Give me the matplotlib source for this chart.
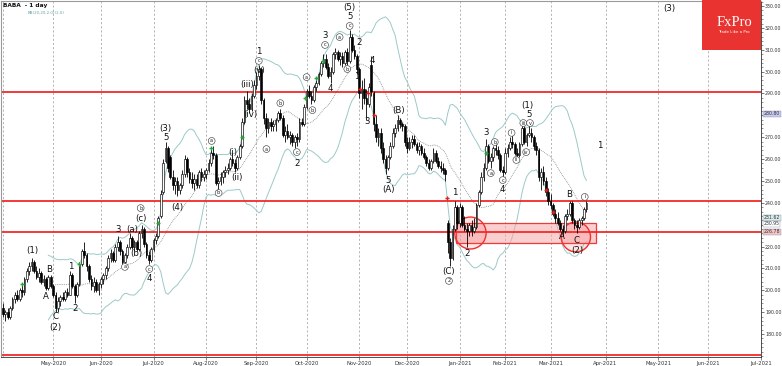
import numpy as np
import pandas as pd
import matplotlib
matplotlib.use("Agg")
import matplotlib.pyplot as plt
from matplotlib.patches import Rectangle, Ellipse
from matplotlib.ticker import MultipleLocator, FixedLocator

# ---------------- data (BABA daily, 2020-04-01 .. 2021-03-22) ----------------
opens = [192,189,190,188,192,196,198,196,200,199, 205,209,211,213,209,206,208,204,205,201,
         206,202,198,192,195,197,196,199,198,207, 202,198,203,212,218,216,211,205,202,204,
         200,203,205,207,210,215,217,214,220,222, 218,213,216,220,224,220,222,219,226,228,
         221,216,214,219,223,225,234,245,259,265, 261,252,248,250,246,248,253,260,254,251,
         249,251,248,254,252,253,255,258,263,262, 249,250,252,254,255,256,260,258,256,261,
         266,277,287,285,283,289,294,298,301,287, 279,274,277,275,276,278,281,279,271,273,
         270,271,268,270,269,277,276,284,291,289, 287,293,295,299,304,306,302,298,300,308,
         309,306,307,304,309,305,316,310,307,301, 290,292,288,285,303,290,276,270,272,265,
         260,256,261,266,272,274,278,276,275,268, 265,268,269,267,264,266,263,261,258,256,
         259,263,259,257,256,255,231,222,215,228, 238,231,238,230,228,227,230,227,229,239,
         245,252,256,266,259,261,265,264,262,255, 254,263,265,268,267,263,262,267,274,268,
         271,272,270,266,264,252,254,250,245,241, 239,235,233,231,228,227,234,235,240,232,
         230,229,232,233,237]
highs = [194,191,192,193,197,199,200,201,203,206, 210,213,215,214,211,210,209,207,206,207,
         207,203,199,197,198,199,200,201,209,208, 203,204,213,219,222,217,212,207,206,205,
         204,206,208,211,216,219,218,221,225,223, 219,217,221,226,225,223,223,227,230,229,
         222,218,220,224,226,234,246,260,268,266, 262,255,252,252,249,255,262,261,256,254,
         253,253,255,256,255,256,260,265,266,263, 252,254,255,257,258,261,263,260,262,267,
         279,289,291,288,290,296,300,303,302,288, 281,279,279,278,279,282,283,280,275,276,
         273,272,271,272,279,279,285,292,294,291, 294,296,300,305,308,308,304,302,309,311,
         310,309,309,310,311,319,317,312,308,302, 296,297,292,295,307,291,280,274,274,268,
         262,262,268,274,276,280,279,277,276,270, 270,271,271,268,268,267,265,262,260,260,
         265,264,261,259,258,256,232,224,230,241, 239,240,239,234,231,231,232,233,240,246,
         254,258,269,267,263,266,268,266,263,257, 265,267,270,271,268,265,268,276,275,272,
         277,274,271,268,265,256,257,252,247,244, 240,237,236,232,230,235,237,241,241,233,
         232,233,234,238,241]
lows = [188,186,187,187,191,194,195,195,197,198, 204,207,209,208,205,204,203,202,200,200,
        201,197,190,190,193,195,195,197,198,201, 194,197,202,211,215,209,204,200,199,199,
        198,201,203,205,209,213,213,213,218,216, 212,211,215,219,219,218,218,218,224,220,
        215,212,213,218,221,224,233,244,258,254, 251,246,244,243,244,247,252,252,249,247,
        246,247,247,250,250,251,254,257,260,248, 246,248,249,252,253,255,257,254,255,260,
        265,276,283,281,282,288,292,296,285,276, 270,272,273,273,273,277,278,270,268,269,
        267,266,265,266,268,275,275,283,288,285, 286,291,294,298,302,301,297,295,299,306,
        305,303,302,303,303,304,309,306,299,288, 283,285,278,284,289,273,268,266,263,258,
        253,255,260,265,270,273,274,273,266,263, 264,265,266,263,262,262,260,257,255,255,
        258,258,256,254,253,250,217,211,214,227, 228,229,229,227,220,225,225,226,228,238,
        244,250,255,258,256,259,262,260,254,251, 253,261,264,265,262,260,261,266,267,266,
        270,268,264,262,250,246,248,243,239,237, 234,231,230,227,225,226,232,234,231,228,
        226,228,230,232,236]
closes = [189,190,188,192,196,198,196,200,199,205, 209,211,213,209,206,208,204,205,201,206,
          202,198,192,195,197,196,199,198,207,202, 198,203,212,218,216,211,205,202,204,200,
          203,205,207,210,215,217,214,220,222,218, 213,216,220,224,220,222,219,226,228,221,
          216,214,219,223,225,233,244,258,265,256, 252,248,250,246,248,253,260,254,251,249,
          251,248,254,252,253,255,258,263,262,249, 250,252,254,255,256,260,258,256,261,266,
          277,287,285,283,289,294,298,301,287,279, 274,277,275,276,278,281,279,271,273,270,
          271,268,270,269,277,276,284,291,289,287, 293,295,299,304,306,302,298,300,308,309,
          306,307,304,309,305,316,310,307,301,290, 292,288,285,293,291,276,270,272,265,260,
          256,261,266,272,274,278,276,275,268,265, 268,269,267,264,266,263,261,258,256,259,
          263,259,257,256,255,253,222,215,228,238, 231,238,230,228,227,230,227,229,239,245,
          252,256,266,259,261,265,264,262,255,254, 263,265,268,267,263,262,267,274,268,271,
          272,270,266,264,252,254,250,245,241,239, 235,233,231,228,227,234,235,240,232,230,
          229,232,233,237,240]

nyse_holidays = ["2020-04-10", "2020-05-25", "2020-07-03", "2020-09-07", "2020-11-26",
                 "2020-12-25", "2021-01-01", "2021-01-18", "2021-02-15"]
first_day, last_day, future_end = "2020-04-01", "2021-03-22", "2021-07-02"

# y-axis tick values (labels hidden where a price tag sits)
ytick_values = [180, 190, 200, 210, 220, 230, 240, 250, 260, 270, 280, 290, 300, 310, 320, 330]
ytick_hidden = [230, 280]

# support / resistance levels
red_levels = [290.8, 240.8, 226.78, 170.6]
zone_low, zone_high = 221.5, 230.6

# price tags on the axis
tag_values = [280.80, 231.62, 230.95, 226.78]
tag_faces = ["#c8c8f0", "#d8eeee", "#ffffff", "#f4c4c4"]
tag_offsets = [0, 1.6, -0.6, 0]

# Elliott wave labels: text, bar index, price, circled
wave_text = ["(1)", "A", "B", "C", "(2)", "1", "2", "3", "a", "(a)", "(b)", "(c)", "b", "c", "4",
             "(3)", "5", "(4)", "a", "b", "(i)", "(ii)", "(iii)", "(iv)", "(v)", "c", "1",
             "a", "b", "c", "2", "a", "b", "c", "3", "4", "a", "b", "c", "5", "(5)",
             "2", "1", "3", "4", "5", "(A)", "(B)", "(C)", "2", "1", "2",
             "3", "a", "b", "c", "4", "i", "ii", "iii", "iv", "v", "5", "(1)",
             "A", "B", "C", "(2)", "i", "1", "(3)"]
wave_idx = [12.2, 18.0, 19.2, 22.0, 22.0, 28.2, 30.2, 48.2, 51.0, 53.9, 55.9, 57.6, 57.6, 61.2, 61.2,
            67.8, 68.2, 73.0, 87.3, 90.2, 96.0, 98.0, 102.0, 103.3, 107.0, 107.0, 107.0,
            110.2, 116.0, 122.9, 122.9, 127.0, 129.4, 134.7, 134.7, 136.7, 140.8, 144.0, 145.0, 145.0, 145.0,
            149.0, 148.0, 152.2, 154.3, 161.2, 161.2, 165.3, 186.5, 186.5, 189.0, 193.9,
            202.0, 204.0, 205.7, 209.0, 209.0, 212.7, 214.7, 217.6, 218.8, 220.4, 220.0, 219.2,
            233.9, 236.7, 240.0, 240.0, 243.3, 249.4, 278.8]
wave_price = [218.4, 197.0, 209.7, 187.8, 183.2, 210.7, 191.9, 227.6, 210.7, 228.0, 217.0, 233.0, 237.6, 209.7, 205.2,
              274.2, 270.0, 238.0, 268.3, 244.5, 263.2, 251.8, 294.3, 280.2, 300.3, 304.9, 309.0,
              264.6, 285.6, 263.2, 257.8, 297.5, 282.4, 312.2, 316.7, 292.5, 315.8, 301.2, 320.9, 325.0, 329.5,
              313.5, 298.0, 277.0, 305.3, 250.4, 246.3, 282.4, 208.4, 204.3, 244.5, 217.0,
              272.0, 253.6, 267.8, 250.4, 245.9, 272.0, 259.6, 276.5, 263.2, 276.5, 280.6, 284.7,
              224.4, 244.0, 223.0, 218.4, 242.7, 266.4, 329.0]
wave_circled = [0, 0, 0, 0, 0, 0, 0, 0, 1, 0, 0, 0, 1, 1, 0,
                0, 0, 0, 1, 1, 0, 0, 0, 0, 0, 1, 0,
                1, 1, 1, 0, 1, 1, 1, 0, 0, 1, 1, 1, 0, 0,
                0, 0, 0, 0, 0, 0, 0, 0, 1, 0, 0,
                0, 1, 1, 1, 0, 1, 1, 1, 1, 1, 0, 0,
                0, 0, 0, 0, 1, 0, 0]

green_idx = [8, 32, 65, 87, 100, 126.5, 131, 134, 202]
green_price = [203, 212, 231, 265, 270, 288, 297, 305, 263]
red_idx = [149.5, 152.5, 155, 185.7, 227, 230]
red_price = [292, 290, 280, 242, 246, 236]

# ---------------- dates / x positions ----------------
hol = pd.to_datetime(nyse_holidays)
trade_days = pd.bdate_range(first_day, last_day)
trade_days = trade_days[~trade_days.isin(hol)]
future_days = pd.bdate_range(pd.Timestamp(last_day) + pd.Timedelta(days=1), future_end)
all_days = trade_days.append(future_days)
months = all_days.to_period("M")
month_idx = [i for i in range(1, len(all_days)) if months[i] != months[i - 1]]
month_lab = [all_days[i].strftime("%b-%Y") for i in month_idx]

o = np.array(opens, float); h = np.array(highs, float)
l = np.array(lows, float); c = np.array(closes, float)
x = np.arange(len(c))

s = pd.Series(c)
mid = s.rolling(20).mean()
sd = s.rolling(20).std(ddof=0)
upper = mid + 2 * sd
lower = mid - 2 * sd

# ---------------- figure ----------------
W, H = 782, 366
fig = plt.figure(figsize=(W / 100, H / 100), dpi=100)
fig.patch.set_facecolor("white")
ax = fig.add_axes([1 / W, 9 / H, 760 / W, 356 / H])
ax.set_xlim(-0.8, 309.4)
ax.set_ylim(169.5, 332.3)

# grid
ax.set_xticks(month_idx)
ax.set_xticklabels(month_lab, fontsize=3.8, color="#333333")
ax.xaxis.grid(True, linestyle=(0, (2.5, 2.5)), color="#a8a8a8", lw=0.6)
ax.axvline(0, linestyle=(0, (2.5, 2.5)), color="#a8a8a8", lw=0.6)
ax.tick_params(axis="x", length=2, width=0.5, pad=1.2, color="#555555")

# y axis on right
ax.yaxis.tick_right()
ax.yaxis.set_major_locator(FixedLocator(ytick_values))
ax.yaxis.set_minor_locator(MultipleLocator(2))
ax.set_yticklabels(["" if v in ytick_hidden else f"{v:.2f}" for v in ytick_values],
                   fontsize=3.4, color="#333333")
ax.tick_params(axis="y", which="major", length=2.2, width=0.5, pad=0.8, color="#444444")
ax.tick_params(axis="y", which="minor", length=1.2, width=0.4, color="#444444")
for sp in ["left", "top"]:
    ax.spines[sp].set_color("#999999"); ax.spines[sp].set_linewidth(0.8)
ax.spines["right"].set_color("#333333"); ax.spines["right"].set_linewidth(0.6)
ax.spines["bottom"].set_color("#333333"); ax.spines["bottom"].set_linewidth(0.6)

# bands
ax.plot(x, upper, color="#9cc9c9", lw=0.7, zorder=2)
ax.plot(x, lower, color="#9cc9c9", lw=0.7, zorder=2)
ax.plot(x, mid, color="#7a8a8a", lw=0.6, linestyle=(0, (1, 1.2)), zorder=2)

# red levels
for v in red_levels:
    ax.axhline(v, color="#f22a2a", lw=1.3, zorder=2.5)

# zone and circles
ax.add_patch(Rectangle((189.4, zone_low), 58.4, zone_high - zone_low, facecolor="#f5a9a9",
                       alpha=0.55, edgecolor="none", zorder=2.2))
ax.add_patch(Rectangle((189.4, zone_low), 58.4, zone_high - zone_low, facecolor="none",
                       edgecolor="#f03a3a", lw=0.9, zorder=2.3))
for cx, cy, rw, rh in [(195.5, 226.2, 13.1, 14.6), (239.6, 224.4, 12.2, 13.7)]:
    ax.add_patch(Ellipse((cx, cy), rw, rh, facecolor=(1, 0.3, 0.3, 0.15), edgecolor="#f03030",
                         lw=1.0, zorder=2.4))

# candles
up = c >= o
ax.vlines(x, l, h, color="black", lw=0.6, zorder=3)
ax.bar(x[up], (c - o)[up], bottom=o[up], width=0.72, color="white", edgecolor="black",
       linewidth=0.45, zorder=4)
ax.bar(x[~up], (o - c)[~up], bottom=c[~up], width=0.72, color="black", edgecolor="black",
       linewidth=0.45, zorder=4)

# markers
ax.plot(green_idx, green_price, "+", color="#22aa33", ms=3.5, mew=1.0, zorder=5)
ax.plot(red_idx, red_price, "+", color="#e02020", ms=3.5, mew=1.0, zorder=5)

# wave labels
for t, xi, yp, circ in zip(wave_text, wave_idx, wave_price, wave_circled):
    if circ:
        ax.text(xi, yp, t, ha="center", va="center", fontsize=3.6, color="#222222", zorder=6,
                bbox=dict(boxstyle="circle,pad=0.18", fc="white", ec="#444444", lw=0.45))
    else:
        ax.text(xi, yp, t, ha="center", va="center", fontsize=6.2, color="#111111", zorder=6)

# price tags
for v, fc, dv in zip(tag_values, tag_faces, tag_offsets):
    ax.annotate(f"{v:.2f}", xy=(1.0, v + dv), xycoords=("axes fraction", "data"),
                xytext=(2.0, 0), textcoords="offset points", fontsize=3.3, va="center",
                ha="left", color="#333333", annotation_clip=False, zorder=7,
                bbox=dict(boxstyle="square,pad=0.12", fc=fc, ec="#8888aa", lw=0.3))

# header texts
fig.text(3 / W, 1 - 6 / H, "BABA  - 1 day", fontsize=4.2, fontweight="bold", va="center",
         ha="left", color="#111111")
fig.text(28 / W, 1 - 12.5 / H, "BB(20,20,2.0)(2.0)", fontsize=2.9, va="center", ha="left",
         color="#5fa5a5")

# FxPro logo
fig.add_artist(Rectangle((702 / W, 1 - 50 / H), 59 / W, 50 / H, transform=fig.transFigure,
                         facecolor="#e83330", edgecolor="none", zorder=10))
fig.text(734 / W, 1 - 22 / H, "FxPro", fontsize=10.5, family="Liberation Serif", color="white",
         ha="center", va="center", zorder=11)
fig.text(734 / W, 1 - 32 / H, "Trade Like a Pro", fontsize=2.9, color="white",
         ha="center", va="center", zorder=11)

fig.savefig("out.png", dpi=100)
